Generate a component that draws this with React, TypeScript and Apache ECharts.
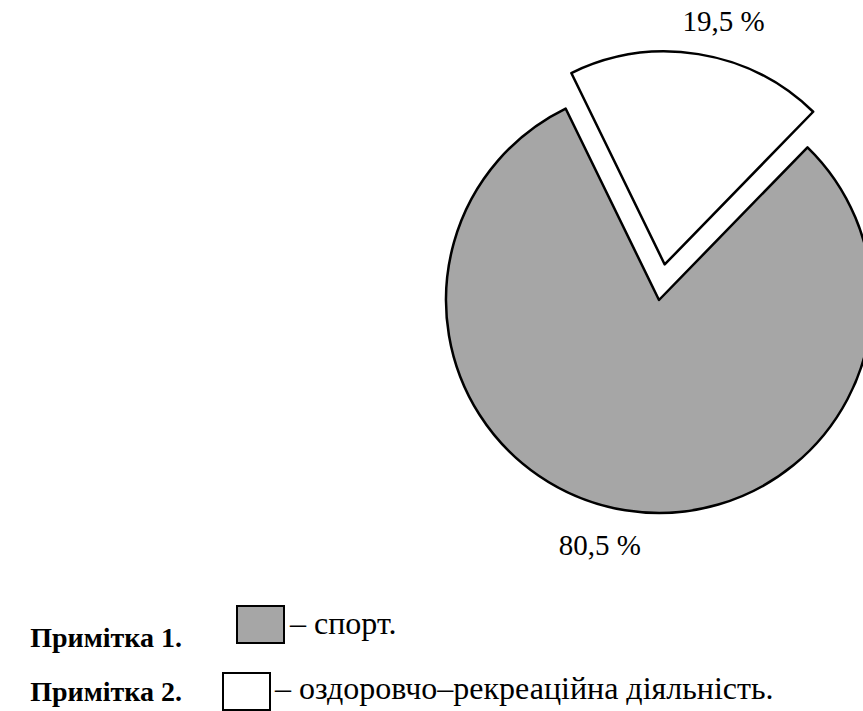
import React, { useEffect, useRef } from "react";
import * as echarts from "echarts";

const categories = ["оздоровчо–рекреаційна діяльність", "спорт"];
const values = [19.5, 80.5];
const labels = ["19,5 %", "80,5 %"];
const noteTitles = ["Примітка 1.", "Примітка 2."];
const noteTexts = ["– спорт.", "– оздоровчо–рекреаційна діяльність."];

const GREY = "#a6a6a6";
const FONT = "'Liberation Serif', 'Times New Roman', serif";

export default function App() {
  const ref = useRef<HTMLDivElement>(null);
  useEffect(() => {
    if (!ref.current) return;
    const chart = echarts.init(ref.current, undefined, { renderer: "svg" });
    const cx = 659;
    const cy = 300;
    const R = 213;
    const startAngle = 116;
    const selOffset = 36;
    const total = values.reduce((a, b) => a + b, 0);
    const fills = ["#ffffff", GREY];

    // label positions derived from the data angles
    const labelDist = [250, 252];
    const labelGraphics: any[] = [];
    let acc = startAngle;
    values.forEach((v, i) => {
      const span = (v / total) * 360;
      const mid = acc - span / 2;
      acc -= span;
      const rad = ((mid - 4.5) * Math.PI) / 180;
      const midRad = (mid * Math.PI) / 180;
      const off = i === 0 ? selOffset : 0;
      const ox = cx + off * Math.cos(midRad);
      const oy = cy - off * Math.sin(midRad);
      labelGraphics.push({
        type: "text",
        x: ox + labelDist[i] * Math.cos(rad),
        y: oy - labelDist[i] * Math.sin(rad),
        style: {
          text: labels[i],
          font: `29px ${FONT}`,
          fill: "#000",
          align: "center",
          verticalAlign: "middle",
        },
      });
    });

    const legendGraphics: any[] = [
      {
        type: "text",
        x: 182,
        y: 637,
        style: { text: noteTitles[0], font: `bold 28px ${FONT}`, fill: "#000", align: "right", verticalAlign: "middle" },
      },
      {
        type: "text",
        x: 182,
        y: 691,
        style: { text: noteTitles[1], font: `bold 28px ${FONT}`, fill: "#000", align: "right", verticalAlign: "middle" },
      },
      {
        type: "rect",
        shape: { x: 237, y: 606, width: 47, height: 37 },
        style: { fill: fills[1], stroke: "#000", lineWidth: 2 },
      },
      {
        type: "rect",
        shape: { x: 223, y: 673, width: 47, height: 37 },
        style: { fill: fills[0], stroke: "#000", lineWidth: 2 },
      },
      {
        type: "text",
        x: 290,
        y: 623,
        style: { text: noteTexts[0], font: `32px ${FONT}`, fill: "#000", align: "left", verticalAlign: "middle" },
      },
      {
        type: "text",
        x: 275,
        y: 688,
        style: { text: noteTexts[1], font: `32px ${FONT}`, fill: "#000", align: "left", verticalAlign: "middle" },
      },
    ];

    chart.setOption({
      animation: false,
      backgroundColor: "#ffffff",
      series: [
        {
          type: "pie",
          center: [cx, cy],
          radius: R,
          startAngle,
          clockwise: true,
          selectedMode: "single",
          selectedOffset: selOffset,
          label: { show: false },
          labelLine: { show: false },
          emphasis: { disabled: true },
          itemStyle: { borderColor: "#000", borderWidth: 2.5 },
          data: categories.map((name, i) => ({
            name,
            value: values[i],
            selected: i === 0,
            itemStyle: { color: fills[i] },
          })),
        },
      ],
      graphic: [...labelGraphics, ...legendGraphics],
    });
    return () => chart.dispose();
  }, []);
  return (
    <div
      ref={ref}
      style={{ position: "absolute", left: 0, top: 0, width: 863, height: 711 }}
    />
  );
}
